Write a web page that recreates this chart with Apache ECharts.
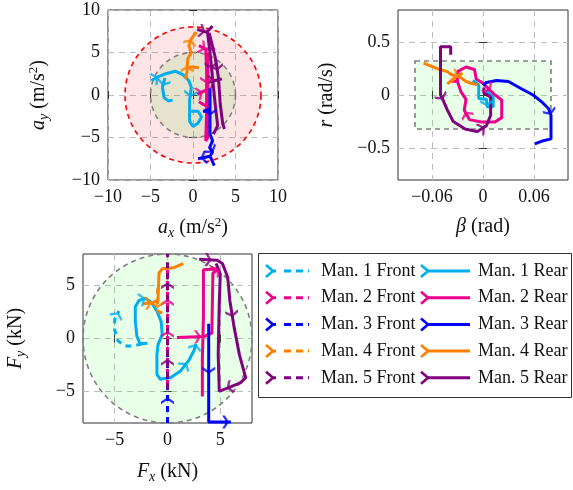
<!DOCTYPE html>
<html>
<head>
<meta charset="UTF-8">
<title>Manoeuvres</title>
<script src="https://cdn.jsdelivr.net/npm/echarts@6/dist/echarts.min.js"></script>
<style>
  html, body { margin: 0; padding: 0; background: #fff; }
  #main { width: 573px; height: 490px; }
</style>
</head>
<body>
<div id="main"></div>
<script>
  var manNames = ['Man. 1', 'Man. 2', 'Man. 3', 'Man. 4', 'Man. 5'];
  var colors = ['#00AEEF', '#EC008C', '#0000FF', '#FF8000', '#800080'];

  var accTicks = [-10, -5, 0, 5, 10];
  var betaTicks = [-0.06, 0, 0.06];
  var yawTicks = [-0.5, 0, 0.5];
  var forceTicks = [-5, 0, 5];

  // limits drawn as shaded regions
  var accLimit = 8, accInner = 5;
  var betaLimit = 0.08, yawLimit = 0.32;
  var forceLimit = 8;

  var GAP = ['-', '-'];

  // a_x, a_y (m/s^2)
  var acc1 = [[-4.9,1.7],[-4.0,2.2],[-3.2,2.5],[-2.1,2.8],[-1.2,2.4],[-0.5,1.7],[-0.2,0.9],[-0.4,-0.6],[-0.4,-2.0],[-0.4,-3.1],[0.0,-3.7],[0.6,-3.3],[1.0,-2.6],[0.6,-1.9],[-0.2,-1.9], GAP, [-3.3,2.0],[-3.6,0.9],[-3.4,-0.3],[-2.9,-0.7],[-2.4,-0.6]];
  var acc2 = [[0.7,5.8],[1.5,5.4],[2.6,5.4], GAP, [1.5,5.4],[1.6,3.0],[1.6,0.5],[1.6,-2.0],[1.5,-5.4],[1.75,-5.0],[1.75,-1.5],[1.75,2.0],[1.7,5.0], GAP, [0.5,0.1],[1.0,0.3],[1.6,0.6], GAP, [0.7,-0.8],[1.2,-1.1],[1.6,-1.3]];
  var acc3 = [[2.0,0.8],[2.0,-1.0],[2.0,-3.0],[2.0,-4.6],[2.3,-5.4],[1.95,-6.2],[2.3,-6.7],[2.0,-7.2],[0.6,-7.5], GAP, [2.0,-7.2],[2.5,-8.3], GAP, [1.2,-2.0],[2.0,-1.6]];
  var acc4 = [[-0.9,1.9],[-0.7,2.7],[-0.7,3.4],[-0.6,4.3],[-0.2,5.0],[-0.5,5.8],[-0.2,6.6],[0.4,7.4], GAP, [-0.7,3.3],[0.0,3.3],[0.7,3.2]];
  var acc5 = [[0.5,7.7],[1.6,7.4],[2.3,8.1], GAP, [1.7,7.4],[2.0,5.0],[2.3,2.0],[2.6,-1.0],[2.9,-3.6],[2.4,-4.6], GAP, [1.9,7.3],[2.6,4.5],[3.0,2.0],[3.2,-1.0],[3.5,-3.4],[3.7,-4.0], GAP, [1.8,1.5],[2.6,1.7],[3.4,1.9]];

  // beta (rad), r (rad/s)
  var yaw1 = [[-0.012,0.137],[-0.005,0.095],[-0.005,-0.032],[0.004,-0.041],[0.005,-0.111],[0.012,-0.111],[0.012,-0.016],[0.006,0.022],[0.004,0.048]];
  var yaw2 = [[-0.037,0.13],[-0.03,0.13],[-0.03,0.22],[-0.02,0.264],[-0.01,0.24],[-0.008,0.15],[0.0,0.11],[0.012,0.016],[0.022,-0.048],[0.022,-0.213],[0.014,-0.254],[-0.002,-0.254],[-0.016,-0.232],[-0.022,-0.143],[-0.02,-0.041],[-0.026,0.032],[-0.03,0.127]];
  var yaw3 = [[0.0,0.09],[0.004,0.118],[0.016,0.137],[0.03,0.127],[0.044,0.064],[0.059,0.0],[0.069,-0.064],[0.077,-0.127],[0.08,-0.19],[0.08,-0.413],[0.071,-0.43],[0.061,-0.46]];
  var yaw4 = [[-0.07,0.3],[-0.053,0.245],[-0.042,0.22],[-0.037,0.19],[-0.028,0.175],[-0.02,0.127],[-0.014,0.111],[-0.006,0.095], GAP, [-0.042,0.105],[-0.032,0.17],[-0.024,0.207]];
  var yaw5 = [[-0.038,0.38],[-0.038,0.455],[-0.05,0.455],[-0.05,0.2],[-0.05,0.0],[-0.048,-0.03],[-0.042,-0.14],[-0.035,-0.25],[-0.021,-0.32],[-0.007,-0.345],[0.004,-0.29],[0.009,-0.19],[0.009,-0.02],[0.001,0.02],[0.001,0.07]];

  // F_x, F_y (kN), front and rear axle
  var front1 = [[-2.4,-0.5],[-3.2,-0.7],[-4.1,-0.7],[-4.7,-0.2],[-5.0,0.8],[-5.0,1.8],[-4.6,2.6]];
  var rear1 = [[-1.9,-0.45],[-2.6,-0.5],[-2.9,0.2],[-3.05,1.7],[-3.05,3.0],[-2.7,3.6],[-2.1,3.8],[-1.5,3.4],[-1.0,2.6],[-0.6,1.6],[-0.5,0.4],[-0.9,-0.6],[-1.0,-1.5],[-1.0,-3.4],[-0.67,-3.86],[0.3,-3.7],[1.24,-3.07],[2.0,-2.1],[2.5,-1.16],[2.7,-0.5]];
  var front2 = [[0,-4.5],[0,-0.5],[0,1.3],[0,2.5],[0,4.3],[0,6.8]];
  var rear2 = [[0.9,0.1],[2.2,0.15],[3.5,0.2],[4.2,0.5],[4.25,3.5],[4.3,6.2],[4.9,6.6],[3.4,6.5],[3.4,2.0],[3.3,-2.0],[3.3,-5.5]];
  var front3 = [[0,-8],[0,-6.5],[0,-5.3],[0,-1.5]];
  var rear3 = [[3.9,1.4],[3.9,-1.5],[3.9,-4.5],[3.9,-7.9],[5.0,-7.9],[6.0,-7.9]];
  var front4 = [[-0.9,4.8],[-1.0,3.8],[-0.9,2.6],[-0.5,2.4]];
  var rear4 = [[-2.3,3.3],[-1.4,3.4],[-0.9,3.6],[-0.85,5.0],[-0.8,6.2],[-0.5,6.6],[0.6,6.7],[1.5,7.1]];
  var front5 = [[0,-4.8],[0,-3.5],[0,-1.0],[0,3.5],[0,6.5],[0,8]];
  var rear5 = [[3.0,7.5],[4.7,7.4],[5.2,7.1],[5.7,5.8],[5.9,3.6],[6.3,1.1],[6.8,-1.5],[7.4,-3.7],[6.9,-4.2],[4.9,-5.0],[4.8,-1.5],[4.9,3.3],[5.0,6.1],[4.6,7.1]];

  var FONT = '"Liberation Serif", "DejaVu Serif", serif';
  var TXT = '#111';
  var CHEVRON = 'path://M0,0L4,0L10,8L4,16L0,16L6,8Z';

  var grids = [
    {left: 108, top: 10, width: 170, height: 170},
    {left: 398, top: 10, width: 170, height: 170},
    {left: 83, top: 254, width: 169, height: 169}
  ];
  var ranges = [
    {x: [-10, 10], y: [-10, 10]},
    {x: [-0.1, 0.1], y: [-0.8, 0.8]},
    {x: [-8, 8], y: [-8, 8]}
  ];

  // g: grid, c: colour index, arrows: segment indices that carry a chevron
  var traces = [
    {g: 0, data: acc1, c: 0, arrows: [0, 6, 16]},
    {g: 0, data: acc2, c: 1, arrows: [0, 5, 14]},
    {g: 0, data: acc3, c: 2, arrows: [1, 5, 7]},
    {g: 0, data: acc4, c: 3, arrows: [1, 5]},
    {g: 0, data: acc5, c: 4, arrows: [0, 5, 12, 18]},
    {g: 1, data: yaw1, c: 0, arrows: [3]},
    {g: 1, data: yaw2, c: 1, arrows: [6, 12]},
    {g: 1, data: yaw3, c: 2, arrows: [7]},
    {g: 1, data: yaw4, c: 3, arrows: [3]},
    {g: 1, data: yaw5, c: 4, arrows: [4, 9]},
    {g: 2, data: front1, c: 0, dash: true, arrows: [5]},
    {g: 2, data: rear1, c: 0, arrows: [5, 16, 18]},
    {g: 2, data: front2, c: 1, dash: true, arrows: [1, 3]},
    {g: 2, data: rear2, c: 1, arrows: [1, 5]},
    {g: 2, data: front3, c: 2, dash: true, arrows: [1]},
    {g: 2, data: rear3, c: 2, arrows: [1, 4]},
    {g: 2, data: front4, c: 3, dash: true, arrows: [1]},
    {g: 2, data: rear4, c: 3, arrows: [0]},
    {g: 2, data: front5, c: 4, dash: true, arrows: [1, 3]},
    {g: 2, data: rear5, c: 4, arrows: [0, 4, 8]}
  ];

  function fmt(v) { return String(v).replace('-', '\u2212'); }

  var rich = {
    i: {fontFamily: FONT, fontSize: 20, fontStyle: 'italic', color: TXT},
    s: {fontFamily: FONT, fontSize: 14, fontStyle: 'italic', color: TXT, padding: [10, 0, 0, 0]},
    p: {fontFamily: FONT, fontSize: 13, color: TXT, padding: [0, 0, 10, 0]}
  };

  function mainAxis(g, pos, r, ticks, name, gap) {
    return {
      type: 'value', gridIndex: g, position: pos, min: r[0], max: r[1],
      name: name, nameLocation: 'middle', nameGap: gap,
      nameRotate: pos === 'left' ? 90 : 0,
      nameTextStyle: {fontFamily: FONT, fontSize: 20, color: TXT, rich: rich},
      axisLine: {show: false},
      axisTick: {show: true, inside: true, length: 4, customValues: ticks, lineStyle: {color: '#333'}},
      axisLabel: {customValues: ticks, formatter: fmt, fontFamily: FONT, fontSize: 18, color: TXT, margin: 8},
      splitLine: {show: true, lineStyle: {color: '#bdbdbd', type: [6, 5], width: 1}}
    };
  }
  function mirrorAxis(g, pos, r, ticks) {
    return {
      type: 'value', gridIndex: g, position: pos, min: r[0], max: r[1],
      axisLine: {show: false}, axisLabel: {show: false}, splitLine: {show: false},
      axisTick: {show: true, inside: true, length: 4, customValues: ticks, lineStyle: {color: '#333'}}
    };
  }

  var xAxes = [
    mainAxis(0, 'bottom', ranges[0].x, accTicks, '{i|a}{s|x} (m/s{p|2})', 36),
    mainAxis(1, 'bottom', ranges[1].x, betaTicks, '{i|\u03b2} (rad)', 37),
    mainAxis(2, 'bottom', ranges[2].x, forceTicks, '{i|F}{s|x} (kN)', 37),
    mirrorAxis(0, 'top', ranges[0].x, accTicks),
    mirrorAxis(1, 'top', ranges[1].x, betaTicks),
    mirrorAxis(2, 'top', ranges[2].x, forceTicks)
  ];
  var yAxes = [
    mainAxis(0, 'left', ranges[0].y, accTicks, '{i|a}{s|y} (m/s{p|2})', 57),
    mainAxis(1, 'left', ranges[1].y, yawTicks, '{i|r} (rad/s)', 61),
    mainAxis(2, 'left', ranges[2].y, forceTicks, '{i|F}{s|y} (kN)', 55),
    mirrorAxis(0, 'right', ranges[0].y, accTicks),
    mirrorAxis(1, 'right', ranges[1].y, yawTicks),
    mirrorAxis(2, 'right', ranges[2].y, forceTicks)
  ];

  function circle(g, r, fill, stroke) {
    return {
      type: 'custom', xAxisIndex: g, yAxisIndex: g, silent: true, z: 1,
      data: [[0, 0, r]],
      renderItem: function (params, api) {
        var c = api.coord([api.value(0), api.value(1)]);
        var e = api.coord([api.value(0) + api.value(2), api.value(1)]);
        return {type: 'circle', shape: {cx: c[0], cy: c[1], r: e[0] - c[0]},
          style: {fill: fill, stroke: stroke, lineWidth: 1.6, lineDash: [5, 4]}};
      }
    };
  }
  function box(g, bx, by, fill, stroke) {
    return {
      type: 'custom', xAxisIndex: g, yAxisIndex: g, silent: true, z: 1,
      data: [[bx, by]],
      renderItem: function (params, api) {
        var a = api.coord([-api.value(0), api.value(1)]);
        var b = api.coord([api.value(0), -api.value(1)]);
        return {type: 'rect', shape: {x: a[0], y: a[1], width: b[0] - a[0], height: b[1] - a[1]},
          style: {fill: fill, stroke: stroke, lineWidth: 1.6, lineDash: [5, 4]}};
      }
    };
  }

  function arrowData(t) {
    var gr = grids[t.g], rg = ranges[t.g];
    var sx = gr.width / (rg.x[1] - rg.x[0]);
    var sy = gr.height / (rg.y[1] - rg.y[0]);
    var out = [];
    t.arrows.forEach(function (i) {
      var a = t.data[i], b = t.data[i + 1];
      if (!b || a === GAP || b === GAP) return;
      var ang = Math.atan2((b[1] - a[1]) * sy, (b[0] - a[0]) * sx) * 180 / Math.PI;
      out.push({value: [(a[0] + b[0]) / 2, (a[1] + b[1]) / 2], symbolRotate: ang});
    });
    return out;
  }

  var series = [
    circle(0, accLimit, 'rgba(255,0,0,0.1)', '#ff0000'),
    circle(0, accInner, 'rgba(0,200,0,0.1)', '#808080'),
    box(1, betaLimit, yawLimit, 'rgba(0,255,0,0.09)', '#808080'),
    circle(2, forceLimit, 'rgba(0,255,0,0.09)', '#808080')
  ];
  traces.forEach(function (t) {
    var col = colors[t.c];
    series.push({
      type: 'line', xAxisIndex: t.g, yAxisIndex: t.g, data: t.data,
      showSymbol: false, symbol: 'none', silent: true, connectNulls: false, z: 3,
      lineStyle: {color: col, width: 3, type: t.dash ? [6, 5] : 'solid'}
    });
    series.push({
      type: 'scatter', xAxisIndex: t.g, yAxisIndex: t.g, data: arrowData(t),
      symbol: CHEVRON, symbolSize: [7, 13], silent: true, z: 3,
      itemStyle: {color: col}
    });
  });

  // legend drawn by hand: chevron + line sample + label, two columns
  var legend = [{
    type: 'rect', shape: {x: 258.5, y: 253.5, width: 313, height: 144},
    style: {fill: '#fff', stroke: '#333', lineWidth: 1}
  }];
  manNames.forEach(function (n, i) {
    var y = 271 + i * 26.7;
    var col = colors[i];
    legend.push(
      {type: 'polyline', shape: {points: [[266, y - 6], [273, y], [266, y + 6]]},
        style: {stroke: col, lineWidth: 2.6, fill: null}},
      {type: 'line', shape: {x1: 273, y1: y, x2: 276, y2: y}, style: {stroke: col, lineWidth: 3}},
      {type: 'line', shape: {x1: 284, y1: y, x2: 309, y2: y}, style: {stroke: col, lineWidth: 3, lineDash: [7, 5]}},
      {type: 'text', style: {text: n + ' Front', x: 321, y: y, fill: TXT,
        font: '18px ' + FONT, align: 'left', verticalAlign: 'middle'}},
      {type: 'polyline', shape: {points: [[421, y - 6], [428, y], [421, y + 6]]},
        style: {stroke: col, lineWidth: 2.6, fill: null}},
      {type: 'line', shape: {x1: 428, y1: y, x2: 470, y2: y}, style: {stroke: col, lineWidth: 3}},
      {type: 'text', style: {text: n + ' Rear', x: 478, y: y, fill: TXT,
        font: '18px ' + FONT, align: 'left', verticalAlign: 'middle'}}
    );
  });

  var chart = echarts.init(document.getElementById('main'));
  chart.setOption({
    animation: false,
    grid: grids.map(function (g) {
      return {left: g.left, top: g.top, width: g.width, height: g.height,
        show: true, borderColor: '#333', borderWidth: 1, backgroundColor: 'transparent'};
    }),
    xAxis: xAxes,
    yAxis: yAxes,
    series: series,
    graphic: legend
  });
</script>
</body>
</html>
